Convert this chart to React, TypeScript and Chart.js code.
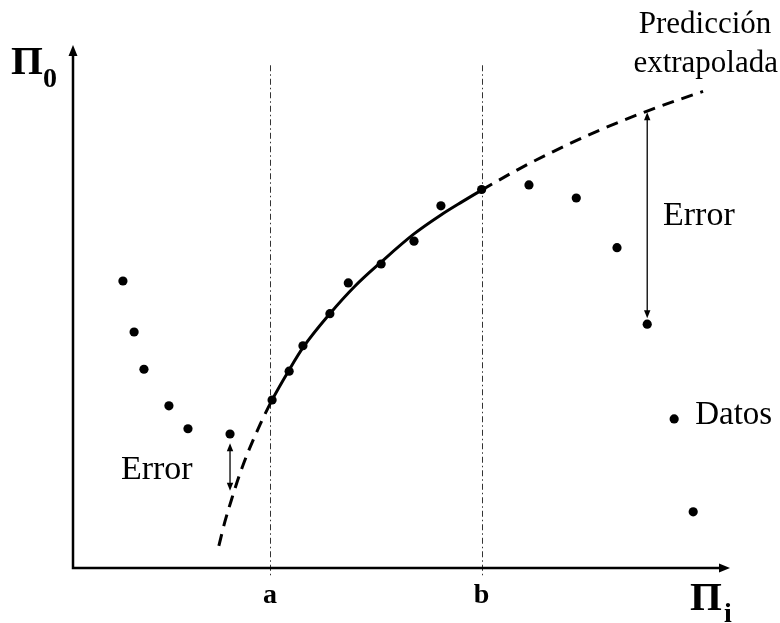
import React, { useEffect, useRef } from 'react';
import { Chart, registerables } from 'chart.js';
Chart.register(...registerables);

// Observed data points (Π_i, Π_0)
const dataX = [0.76, 0.93, 1.08, 1.46, 1.75, 2.39, 3.03, 3.29, 3.50, 3.91, 4.19, 4.69, 5.19, 5.60, 6.22, 6.94, 7.66, 8.28, 8.74, 9.15, 9.44];
const dataY = [4.39, 3.61, 3.04, 2.48, 2.13, 2.05, 2.57, 3.01, 3.40, 3.89, 4.36, 4.65, 5.00, 5.54, 5.79, 5.86, 5.66, 4.90, 3.73, 2.28, 0.86];

// Prediction curve (fitted inside [a, b], extrapolated outside)
const curveX = [2.22, 2.31, 2.42, 2.54, 2.68, 2.85, 3.03, 3.29, 3.50, 3.91, 4.29, 4.69, 5.19, 5.60, 5.92, 6.22, 6.80, 7.31, 8.02, 8.74, 9.24, 9.59];
const curveY = [0.34, 0.70, 1.07, 1.44, 1.81, 2.20, 2.57, 3.03, 3.37, 3.89, 4.31, 4.68, 5.11, 5.40, 5.60, 5.78, 6.11, 6.37, 6.70, 6.99, 7.17, 7.29];

// Boundaries of the fitting interval
const boundaryLabels = ['a', 'b'];
const boundaryX = [3.0, 6.22];

// Error bars
const errorX = [2.39, 8.74];
const errorTop = [1.91, 6.97];
const errorBottom = [1.18, 3.82];

const X_MAX = 10;
const Y_MAX = 8;

const SERIF = '"Liberation Serif", "DejaVu Serif", serif';

function arrowHead(ctx: CanvasRenderingContext2D, tipX: number, tipY: number, dir: 'up' | 'down' | 'right', len: number, hw: number) {
  ctx.beginPath();
  if (dir === 'up') {
    ctx.moveTo(tipX, tipY);
    ctx.lineTo(tipX - hw, tipY + len);
    ctx.lineTo(tipX + hw, tipY + len);
  } else if (dir === 'down') {
    ctx.moveTo(tipX, tipY);
    ctx.lineTo(tipX - hw, tipY - len);
    ctx.lineTo(tipX + hw, tipY - len);
  } else {
    ctx.moveTo(tipX, tipY);
    ctx.lineTo(tipX - len, tipY - hw);
    ctx.lineTo(tipX - len, tipY + hw);
  }
  ctx.closePath();
  ctx.fill();
}

const overlay = {
  id: 'overlay',
  beforeDatasetsDraw(chart: any) {
    const { ctx, scales } = chart;
    const px = (v: number) => scales.x.getPixelForValue(v);
    const py = (v: number) => scales.y.getPixelForValue(v);
    ctx.save();
    ctx.strokeStyle = '#333';
    ctx.lineWidth = 1;
    ctx.setLineDash([6, 3, 1.5, 3]);
    boundaryX.forEach((bx) => {
      const xx = Math.round(px(bx)) + 0.5;
      ctx.beginPath();
      ctx.moveTo(xx, py(7.69));
      ctx.lineTo(xx, py(-0.12));
      ctx.stroke();
    });
    ctx.setLineDash([]);
    ctx.restore();
  },
  afterDatasetsDraw(chart: any) {
    const { ctx, scales } = chart;
    const px = (v: number) => scales.x.getPixelForValue(v);
    const py = (v: number) => scales.y.getPixelForValue(v);
    ctx.save();
    ctx.fillStyle = '#000';
    ctx.strokeStyle = '#000';

    // axes
    const ox = px(0);
    const oy = py(0);
    const topY = py(Y_MAX);
    const rightX = px(X_MAX);
    ctx.lineWidth = 2.5;
    ctx.beginPath();
    ctx.moveTo(ox, oy + 1.2);
    ctx.lineTo(ox, topY + 9);
    ctx.moveTo(ox - 1.2, oy);
    ctx.lineTo(rightX - 9, oy);
    ctx.stroke();
    arrowHead(ctx, ox, topY, 'up', 11, 4.5);
    arrowHead(ctx, rightX, oy, 'right', 11, 4.5);

    // error bars
    ctx.lineWidth = 1.3;
    errorX.forEach((ex, i) => {
      const xx = px(ex);
      const t = py(errorTop[i]);
      const b = py(errorBottom[i]);
      ctx.beginPath();
      ctx.moveTo(xx, t + 6);
      ctx.lineTo(xx, b - 6);
      ctx.stroke();
      arrowHead(ctx, xx, t, 'up', 8, 3.2);
      arrowHead(ctx, xx, b, 'down', 8, 3.2);
    });

    // texts
    ctx.textBaseline = 'alphabetic';
    ctx.font = `31px ${SERIF}`;
    ctx.textAlign = 'center';
    ctx.fillText('Predicción', px(9.62), py(8.18));
    ctx.fillText('extrapolada', px(9.63), py(7.59));

    ctx.font = `34px ${SERIF}`;
    ctx.textAlign = 'left';
    ctx.fillText('Error', px(8.98), py(5.25));
    ctx.fillText('Error', px(0.73), py(1.36));
    ctx.font = `33px ${SERIF}`;
    ctx.fillText('Datos', px(9.47), py(2.2));

    ctx.font = `bold 28px ${SERIF}`;
    ctx.textAlign = 'center';
    boundaryLabels.forEach((lab, i) => {
      ctx.fillText(lab, px(boundaryX[i]), oy + 35);
    });

    // axis titles
    ctx.textAlign = 'left';
    ctx.font = `bold 41px ${SERIF}`;
    ctx.fillText('Π', ox - 62, topY + 29);
    ctx.font = `bold 28px ${SERIF}`;
    ctx.fillText('0', ox - 30, topY + 42);

    ctx.font = `bold 41px ${SERIF}`;
    ctx.fillText('Π', rightX - 40, oy + 42);
    ctx.font = `bold 28px ${SERIF}`;
    ctx.fillText('i', rightX - 6, oy + 54);

    ctx.restore();
  },
};

const toPts = (xs: number[], ys: number[]) => xs.map((x, i) => ({ x, y: ys[i] }));

export default function App() {
  const ref = useRef<HTMLCanvasElement | null>(null);
  useEffect(() => {
    document.body.style.margin = '0';
    if (!ref.current) return;
    const a = boundaryX[0];
    const b = boundaryX[1];
    const chart = new Chart(ref.current, {
      type: 'scatter',
      data: {
        datasets: [
          {
            label: 'Datos',
            data: toPts(dataX, dataY),
            backgroundColor: '#000',
            borderColor: '#000',
            pointRadius: 4.6,
            pointBorderWidth: 0,
          },
          {
            label: 'Predicción',
            data: toPts(curveX, curveY),
            showLine: true,
            borderColor: '#000',
            borderWidth: 3,
            pointRadius: 0,
            cubicInterpolationMode: 'monotone',
            fill: false,
            segment: {
              borderDash: (c: any) =>
                c.p0.parsed.x < a - 0.05 || c.p0.parsed.x >= b - 0.05 ? [12, 8] : [],
            },
          },
        ] as any,
      },
      options: {
        responsive: false,
        animation: false,
        devicePixelRatio: 1,
        layout: { padding: { left: 73, right: 50, top: 45, bottom: 55 } },
        plugins: { legend: { display: false }, tooltip: { enabled: false } },
        scales: {
          x: { type: 'linear', min: 0, max: X_MAX, display: false },
          y: { type: 'linear', min: 0, max: Y_MAX, display: false },
        },
      },
      plugins: [overlay],
    });
    return () => chart.destroy();
  }, []);
  return (
    <div style={{ width: 780, height: 623, background: '#fff' }}>
      <canvas ref={ref} width={780} height={623} />
    </div>
  );
}
